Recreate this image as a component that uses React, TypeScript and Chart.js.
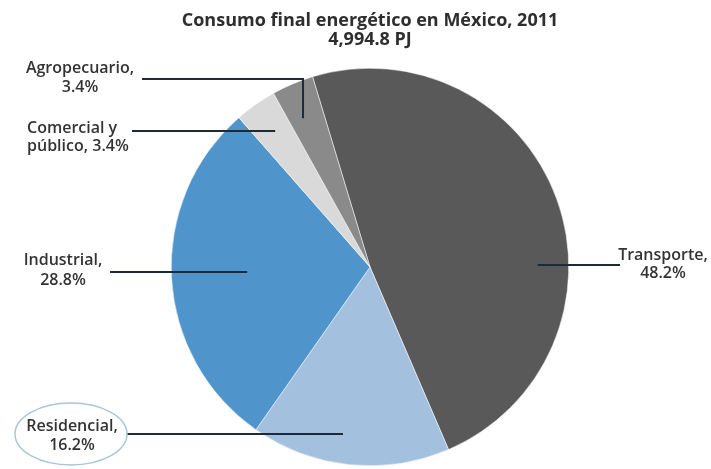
import React, { useEffect, useRef } from "react";
import { Chart, registerables } from "chart.js";

Chart.register(...registerables);

const categories = ["Transporte", "Residencial", "Industrial", "Comercial y público", "Agropecuario"];
const shares = [48.2, 16.2, 28.8, 3.4, 3.4];
const colors = ["#595959", "#a3c1df", "#4f94ca", "#d9d9d9", "#8a8a8a"];
const titleLines = ["Consumo final energético en México, 2011", "4,994.8 PJ"];
const labelLines = [
  ["Transporte,", "48.2%"],
  ["Residencial,", "16.2%"],
  ["Industrial,", "28.8%"],
  ["Comercial y", "público, 3.4%"],
  ["Agropecuario,", "3.4%"],
];

// layout of labels: text center (absolute px), leader line start (absolute px),
// leader end relative to pie centre in units of radius, optional corner
const labelLayout = [
  { tx: 663, ty: [255, 273], lx: 620, ly: 265, end: [0.844, -0.01], align: "center" },
  { tx: 72, ty: [426, 445], lx: 127, ly: 434, end: [-0.136, 0.839], align: "center", ellipse: true },
  { tx: 63, ty: [260, 280], lx: 110, ly: 272, end: [-0.618, 0.025], align: "center" },
  { tx: 27, ty: [128, 146], lx: 132, ly: 131, end: [-0.477, -0.683], align: "left" },
  { tx: 80, ty: [68, 87], lx: 142, ly: 79, end: [-0.337, -0.749], align: "center", corner: true },
];

const labelPlugin = {
  id: "leaderLabels",
  afterDraw(chart: any) {
    const ctx = chart.ctx;
    const meta = chart.getDatasetMeta(0);
    const arc = meta.data[0];
    const cx = arc.x;
    const cy = arc.y;
    const r = arc.outerRadius;
    ctx.save();
    // title
    ctx.fillStyle = "#2e2e2e";
    ctx.textAlign = "center";
    ctx.textBaseline = "middle";
    ctx.font = "bold 18px 'Open Sans'";
    ctx.fillText(titleLines[0], 370, 21);
    ctx.fillText(titleLines[1], 370, 40);

    labelLayout.forEach((L, i) => {
      const ex = cx + L.end[0] * r;
      const ey = cy + L.end[1] * r;
      ctx.strokeStyle = "#1f2a38";
      ctx.lineWidth = 2;
      ctx.beginPath();
      ctx.moveTo(L.lx, L.ly);
      if (L.corner) {
        ctx.lineTo(ex, L.ly);
        ctx.lineTo(ex, ey);
      } else {
        ctx.lineTo(ex, L.ly);
      }
      ctx.stroke();
      if (L.ellipse) {
        ctx.strokeStyle = "#a9c6d8";
        ctx.lineWidth = 1.5;
        ctx.beginPath();
        ctx.ellipse(71, 434, 56, 31, 0, 0, Math.PI * 2);
        ctx.stroke();
      }
      ctx.fillStyle = "#333333";
      ctx.font = "600 16px 'Open Sans'";
      ctx.textAlign = L.align as CanvasTextAlign;
      ctx.fillText(labelLines[i][0], L.tx, L.ty[0]);
      ctx.fillText(labelLines[i][1], L.tx, L.ty[1]);
    });
    ctx.restore();
  },
};

export default function App() {
  const ref = useRef<HTMLCanvasElement>(null);
  useEffect(() => {
    document.body.style.margin = "0";
    const chart = new Chart(ref.current!, {
      type: "pie",
      data: {
        labels: categories,
        datasets: [
          {
            data: shares,
            backgroundColor: colors,
            borderColor: "#ffffff",
            borderWidth: 0.5,
          },
        ],
      },
      options: {
        animation: false,
        responsive: false,
        rotation: -16.8,
        layout: { padding: { left: 171, right: 142, top: 68, bottom: 3 } },
        plugins: {
          legend: { display: false },
          tooltip: { enabled: false },
          title: { display: false },
        },
      },
      plugins: [labelPlugin],
    });
    return () => chart.destroy();
  }, []);
  return (
    <div style={{ width: 711, height: 469, background: "#ffffff" }}>
      <canvas ref={ref} width={711} height={469} style={{ display: "block" }} />
    </div>
  );
}
